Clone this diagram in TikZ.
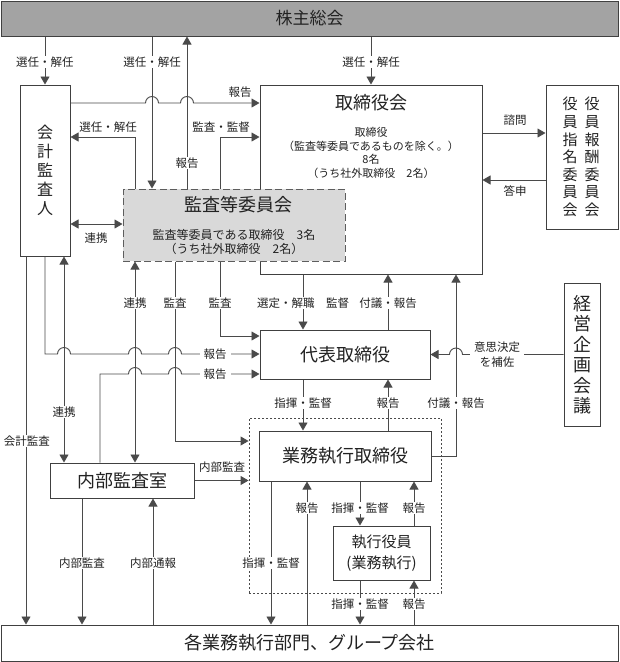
\documentclass[tikz,border=0pt]{standalone}
\usepackage{fontspec}
\setmainfont{Noto Sans CJK JP}
\usetikzlibrary{arrows.meta}
\definecolor{txt}{HTML}{222222}
\definecolor{linec}{HTML}{4A4A4A}
\definecolor{boxc}{HTML}{404040}
\definecolor{kabufill}{HTML}{A3A3A3}
\definecolor{kansafill}{HTML}{D9D9D9}
\begin{document}
\begin{tikzpicture}[x=1pt,y=1pt,
  line/.style={draw=linec, line width=0.9pt},
  arr/.style={line, -{Triangle[length=8pt,width=9pt]}},
  darr/.style={line, {Triangle[length=8pt,width=9pt]}-{Triangle[length=8pt,width=9pt]}},
  box/.style={draw=boxc, line width=1pt, fill=white, inner sep=0pt, text=txt, align=center},
  ttl/.style={font=\fontsize{18}{18}\selectfont},
  lbl/.style={font=\fontsize{11.5}{13}\selectfont, text=txt, fill=white, inner xsep=2pt, inner ysep=1pt},
  lbln/.style={lbl, fill=none},
  hop/.style={}]
\useasboundingbox (0,0) rectangle (620,-662);

% ---- boxes ----
\node[box, fill=kabufill, minimum width=617pt, minimum height=35pt, font=\fontsize{17}{17}\selectfont] (kabu) at (309.5,-18.5) {株主総会};
\node[box, minimum width=50pt, minimum height=171pt, font=\fontsize{16}{19}\selectfont] (kaikei) at (45,-170.5) {会\\計\\監\\査\\人};
\node[box, minimum width=222pt, minimum height=189pt] (tori) at (371,-179.5) {};
\node[ttl, text=txt] (toriT) at (371,-103) {取締役会};
\node[align=center, text=txt, font=\fontsize{11}{13.4}\selectfont] (toriS) at (371,-153) {取締役\\（監査等委員であるものを除く。）\\8名\\（うち社外取締役　2名）};
\node[box, minimum width=72pt, minimum height=144pt] (yakuin) at (582,-157) {};
\node[align=center, text=txt, font=\fontsize{15}{17.6}\selectfont] (yakuinR) at (592,-157) {役\\員\\報\\酬\\委\\員\\会};
\node[align=center, text=txt, font=\fontsize{15}{17.6}\selectfont] (yakuinL) at (570,-157) {役\\員\\指\\名\\委\\員\\会};
\node[box, fill=kansafill, draw=boxc!85, dash pattern=on 7pt off 3.5pt, minimum width=222pt, minimum height=72pt] (kansa) at (234,-225) {};
\node[ttl, text=txt] (kansaT) at (238,-205) {監査等委員会};
\node[align=center, text=txt, font=\fontsize{12}{14}\selectfont] (kansaS) at (234,-242) {監査等委員である取締役　3名\\（うち社外取締役　2名）};
\node[box, ttl, minimum width=170pt, minimum height=49pt] (daihyo) at (345,-354.5) {代表取締役};
\node[box, minimum width=36pt, minimum height=143pt, font=\fontsize{18}{20.5}\selectfont] (keiei) at (582,-354.5) {経\\営\\企\\画\\会\\議};
\node[box, ttl, minimum width=144pt, minimum height=35pt] (naibu) at (122,-480.5) {内部監査室};
\node[draw=linec, line width=0.9pt, dash pattern=on 2pt off 2pt, minimum width=192pt, minimum height=175pt, inner sep=0pt] (grp) at (345,-505.5) {};
\node[box, ttl, minimum width=172pt, minimum height=50pt] (gyomu) at (345,-456) {業務執行取締役};
\node[box, minimum width=97pt, minimum height=54pt, font=\fontsize{15}{21}\selectfont] (shikko) at (381.5,-553) {執行役員\\(業務執行)};
\node[box, ttl, minimum width=617pt, minimum height=36pt] (kaku) at (309.5,-643) {各業務執行部門、グループ会社};

% ---- connectors ----
\draw[arr] (kabu.south -| kaikei.north) -- (kaikei.north);
\draw[arr] (kabu.south -| 152,0) -- (kansa.north -| 152,0);
\draw[arr] (kansa.north -| 187,0) -- (kabu.south -| 187,0);
\draw[arr] (kabu.south -| tori.north) -- (tori.north);
\draw[arr] (kaikei.east |- 0,-103) -- (145.5,-103) arc[start angle=180,end angle=0,radius=6.5pt]
  -- (180.5,-103) arc[start angle=180,end angle=0,radius=6.5pt] -- (tori.west |- 0,-103);
\draw[arr] (kansa.north -| 135,0) -- (135,-137) -- (kaikei.east |- 0,-137);
\draw[arr] (kansa.north -| 220,0) -- (220,-137) -- (tori.west |- 0,-137);
\draw[darr] (kaikei.east |- 0,-224) -- (kansa.west |- 0,-224);
\draw[arr] (tori.east |- 0,-133) -- (yakuin.west |- 0,-133);
\draw[arr] (yakuin.west |- 0,-180) -- (tori.east |- 0,-180);
\draw[arr] (kaikei.south -| 26,0) -- (kaku.north -| 26,0);
\draw[arr] (kaikei.south) -- (45,-354) -- (57.5,-354) arc[start angle=180,end angle=0,radius=6.5pt]
  -- (128.5,-354) arc[start angle=180,end angle=0,radius=6.5pt]
  -- (168.5,-354) arc[start angle=180,end angle=0,radius=6.5pt] -- (daihyo.west |- 0,-354);
\draw[arr] (naibu.north -| 100,0) -- (100,-374) -- (128.5,-374) arc[start angle=180,end angle=0,radius=6.5pt]
  -- (168.5,-374) arc[start angle=180,end angle=0,radius=6.5pt] -- (daihyo.west |- 0,-374);
\draw[darr] (kaikei.south -| 64,0) -- (naibu.north -| 64,0);
\draw[darr] (kansa.south -| 135,0) -- (naibu.north -| 135,0);
\draw[arr] (kansa.south -| 175,0) -- (175,-441) -- (grp.west |- 0,-441);
\draw[arr] (kansa.south -| 220,0) -- (220,-336) -- (daihyo.west |- 0,-336);
\draw[arr] (tori.south -| 303,0) -- (daihyo.north -| 303,0);
\draw[arr] (daihyo.north -| 388,0) -- (tori.south -| 388,0);
\draw[arr] (gyomu.east) -- (456,-456) -- (tori.south -| 456,0);
\draw[arr] (keiei.west) -- (462.5,-354.5) arc[start angle=0,end angle=180,radius=6.5pt] -- (daihyo.east);
\draw[arr] (daihyo.south -| 303,0) -- (gyomu.north -| 303,0);
\draw[arr] (gyomu.north -| 388,0) -- (daihyo.south -| 388,0);
\draw[arr] (naibu.east) -- (grp.west |- naibu.east);
\draw[arr] (gyomu.south -| 360,0) -- (shikko.north -| 360,0);
\draw[arr] (shikko.north -| 414,0) -- (gyomu.south -| 414,0);
\draw[arr] (kaku.north -| 307,0) -- (gyomu.south -| 307,0);
\draw[arr] (gyomu.south -| 271,0) -- (kaku.north -| 271,0);
\draw[arr] (shikko.south -| 360,0) -- (kaku.north -| 360,0);
\draw[arr] (kaku.north -| 414,0) -- (shikko.south -| 414,0);
\draw[arr] (naibu.south -| 82,0) -- (kaku.north -| 82,0);
\draw[arr] (kaku.north -| 153,0) -- (naibu.south -| 153,0);

% ---- labels ----
\node[lbl] (l1) at (45,-62) {選任・解任};
\node[lbl] (l2) at (152,-62) {選任・解任};
\node[lbl] (l3) at (371,-62) {選任・解任};
\node[lbl] (l4) at (187,-163) {報告};
\node[lbln] (l5) at (240,-92) {報告};
\node[lbln] (l6) at (108,-127) {選任・解任};
\node[lbln] (l7) at (221,-127) {監査・監督};
\node[lbln] (l8) at (96,-238) {連携};
\node[lbln] (l9) at (515,-120) {諮問};
\node[lbln] (l10) at (515,-191) {答申};
\node[lbl] (l11) at (27,-441) {会計監査};
\node[lbl] (l12) at (64,-412) {連携};
\node[lbl] (l13) at (135,-303) {連携};
\node[lbl] (l14) at (175,-303) {監査};
\node[lbl] (l15) at (220,-303) {監査};
\node[lbl] (l16) at (303,-303) {選定・解職　監督};
\node[lbl] (l17) at (388,-303) {付議・報告};
\node[lbl, inner xsep=4pt] (l18) at (215,-354) {報告};
\node[lbl, inner xsep=4pt] (l19) at (215,-374) {報告};
\node[lbl] (l20) at (456,-403) {付議・報告};
\node[lbl, align=center, font=\fontsize{11.5}{15}\selectfont, inner xsep=4pt] (l21) at (497,-355) {意思決定\\を補佐};
\node[lbl] (l22) at (303,-403) {指揮・監督};
\node[lbl] (l23) at (388,-403) {報告};
\node[lbln] (l24) at (222,-467) {内部監査};
\node[lbl] (l25) at (360,-508) {指揮・監督};
\node[lbl] (l26) at (414,-508) {報告};
\node[lbl] (l27) at (307,-508) {報告};
\node[lbl] (l28) at (271,-563) {指揮・監督};
\node[lbl] (l29) at (360,-604) {指揮・監督};
\node[lbl] (l30) at (414,-604) {報告};
\node[lbl] (l31) at (82,-563) {内部監査};
\node[lbl] (l32) at (153,-563) {内部通報};
\end{tikzpicture}
\end{document}
